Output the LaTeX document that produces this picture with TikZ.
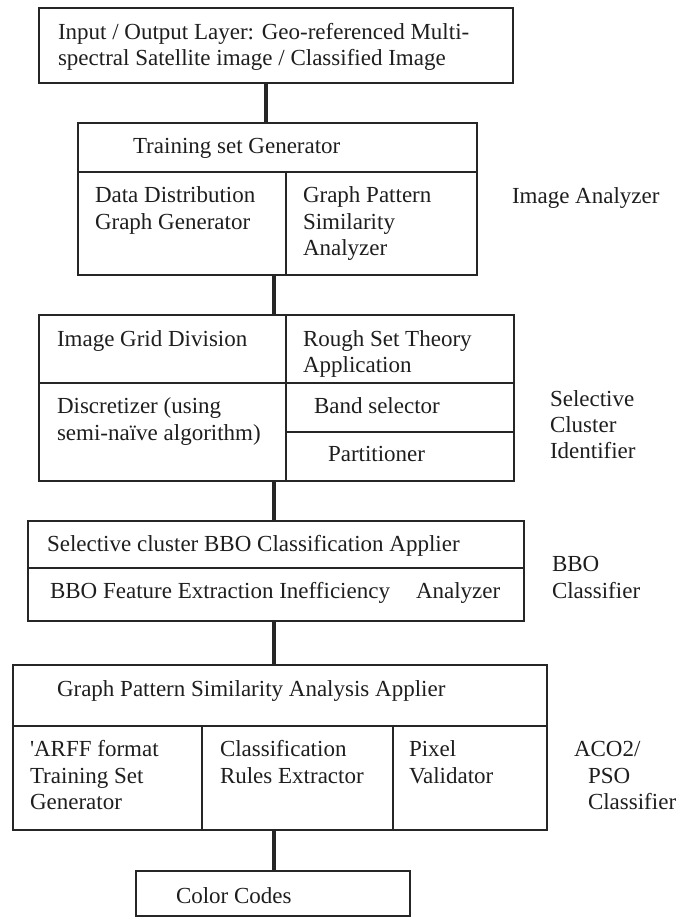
\documentclass[tikz,border=0pt]{standalone}
\usepackage{fontspec}
\setmainfont{Liberation Serif}
\newfontfamily\rawserif{Liberation Serif}[Ligatures=TeXOff]
\definecolor{linec}{HTML}{262626}
\definecolor{txtc}{HTML}{1E1E1E}
\tikzset{
  cell/.style={draw=linec, line width=1.7pt, inner sep=0pt, outer sep=0pt, anchor=north west},
  conn/.style={draw=linec, line width=3.4pt},
  txt/.style={anchor=base west, inner sep=0pt, outer sep=0pt, text=txtc, font=\fontsize{23}{26.5}\selectfont},
}
\begin{document}
\begin{tikzpicture}[x=1pt,y=-1pt]
\useasboundingbox (0,0) rectangle (686,918);
% ---------- boxes ----------
\node[cell, minimum width=474pt, minimum height=75pt] (b1) at (39,8) {};
\node[cell, minimum width=399pt, minimum height=49pt] (b2t) at (78,123) {};
\node[cell, minimum width=208pt, minimum height=103pt] (b2l) at (78,172) {};
\node[cell, minimum width=191pt, minimum height=103pt] (b2r) at (286,172) {};
\node[cell, minimum width=247pt, minimum height=68pt] (b3tl) at (39,315) {};
\node[cell, minimum width=228pt, minimum height=68pt] (b3tr) at (286,315) {};
\node[cell, minimum width=247pt, minimum height=98pt] (b3bl) at (39,383) {};
\node[cell, minimum width=228pt, minimum height=49pt] (b3band) at (286,383) {};
\node[cell, minimum width=228pt, minimum height=49pt] (b3part) at (286,432) {};
\node[cell, minimum width=496pt, minimum height=47pt] (b4t) at (28,521) {};
\node[cell, minimum width=496pt, minimum height=53pt] (b4b) at (28,568) {};
\node[cell, minimum width=534pt, minimum height=61pt] (b5t) at (13,665) {};
\node[cell, minimum width=189pt, minimum height=104pt] (b5l) at (13,726) {};
\node[cell, minimum width=191pt, minimum height=104pt] (b5m) at (202,726) {};
\node[cell, minimum width=154pt, minimum height=104pt] (b5r) at (393,726) {};
\node[cell, minimum width=274pt, minimum height=45pt] (b6) at (136,871) {};
% ---------- connectors ----------
\coordinate (cxa) at (266,0);
\coordinate (cxb) at (274,0);
\draw[conn] (b1.south -| cxa) -- (b2t.north -| cxa);
\draw[conn] (b2l.south -| cxb) -- (b3tl.north -| cxb);
\draw[conn] (b3bl.south -| cxb) -- (b4t.north -| cxb);
\draw[conn] (b4b.south -| cxb) -- (b5t.north -| cxb);
\draw[conn] (b5m.south -| cxb) -- (b6.north -| cxb);
% ---------- texts ----------
\node[txt] (t1a) at (58,39) {Input / Output Layer: Geo-referenced Multi-};
\node[txt] (t1b) at (58,65.5) {spectral Satellite image / Classified Image};
\node[txt] (t2a) at (133,153) {Training set Generator};
\node[txt] (t2b) at (95,202.5) {Data Distribution};
\node[txt] (t2c) at (95,229) {Graph Generator};
\node[txt] (t2d) at (303,202.5) {Graph Pattern};
\node[txt] (t2e) at (303,229) {Similarity};
\node[txt] (t2f) at (303,255.5) {Analyzer};
\node[txt] (l2) at (512,203) {Image Analyzer};
\node[txt] (t3a) at (57,346) {Image Grid Division};
\node[txt] (t3b) at (303,346) {Rough Set Theory};
\node[txt] (t3c) at (303,372) {Application};
\node[txt] (t3d) at (57,413.5) {Discretizer (using};
\node[txt] (t3e) at (57,440) {semi-naïve algorithm)};
\node[txt] (t3f) at (314,413.5) {Band selector};
\node[txt] (t3g) at (328,461.5) {Partitioner};
\node[txt] (l3a) at (550,406) {Selective};
\node[txt] (l3b) at (550,432) {Cluster};
\node[txt] (l3c) at (550,458) {Identifier};
\node[txt] (t4a) at (47,551.5) {Selective cluster BBO Classification Applier};
\node[txt] (t4b) at (50,598) {BBO Feature Extraction Inefficiency\hspace{26pt}Analyzer};
\node[txt] (l4a) at (552,571.5) {BBO};
\node[txt] (l4b) at (552,598) {Classifier};
\node[txt] (t5a) at (57,696.5) {Graph Pattern Similarity Analysis Applier};
\node[txt] (t5b) at (30,756.5) {{\rawserif'}ARFF format};
\node[txt] (t5c) at (30,783) {Training Set};
\node[txt] (t5d) at (30,809.5) {Generator};
\node[txt] (t5e) at (220,756.5) {Classification};
\node[txt] (t5f) at (220,783) {Rules Extractor};
\node[txt] (t5g) at (409,756.5) {Pixel};
\node[txt] (t5h) at (409,783) {Validator};
\node[txt] (l5a) at (574,756.5) {ACO2/};
\node[txt] (l5b) at (588,783) {PSO};
\node[txt] (l5c) at (588,809.5) {Classifier};
\node[txt] (t6) at (176,903) {Color Codes};
\end{tikzpicture}
\end{document}
